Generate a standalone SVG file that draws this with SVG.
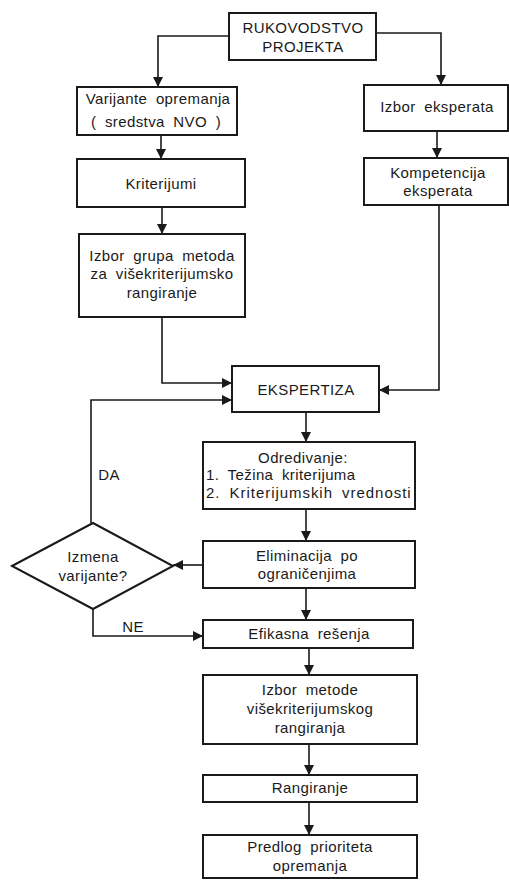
<svg xmlns="http://www.w3.org/2000/svg" width="509" height="880" viewBox="0 0 509 880">
<style>
.box{fill:#fff;stroke:#1a1a1a;stroke-width:2}
.ln{fill:none;stroke:#1a1a1a;stroke-width:1.6;marker-end:url(#ah)}
text{font-family:"Liberation Sans",Arial,sans-serif;font-size:15px;fill:#1a1a1a;text-anchor:middle;letter-spacing:0.4px;word-spacing:4px}
.l{text-anchor:start}
</style>
<defs>
<marker id="ah" markerUnits="userSpaceOnUse" markerWidth="11" markerHeight="10" refX="10" refY="5" orient="auto">
<path d="M0,0 L10,5 L0,10 z" fill="#1a1a1a"/>
</marker>
</defs>
<rect width="509" height="880" fill="#fff"/>
<g id="connectors">
<path class="ln" d="M229,36 H158 V87"/>
<path class="ln" d="M376,33 H441 V85"/>
<path class="ln" d="M161,135 V159"/>
<path class="ln" d="M437,131 V158"/>
<path class="ln" d="M162,207 V234"/>
<path class="ln" d="M162,317 V383 H232"/>
<path class="ln" d="M439,205 V390 H379"/>
<path class="ln" d="M91,523 V400 H232"/>
<path class="ln" d="M306,412 V442"/>
<path class="ln" d="M306,509 V541"/>
<path class="ln" d="M203,565 H173"/>
<path class="ln" d="M306,588 V620"/>
<path class="ln" d="M93,609 V636 H203"/>
<path class="ln" d="M309,648 V675"/>
<path class="ln" d="M309,744 V775"/>
<path class="ln" d="M309,802 V835"/>
<text x="109" y="480">DA</text>
<text x="133" y="632">NE</text>
</g>
<g id="rukovodstvo">
<rect class="box" x="229" y="13" width="147" height="47"/>
<text x="303" y="33">RUKOVODSTVO</text>
<text x="303" y="52">PROJEKTA</text>
</g>
<g id="varijante">
<rect class="box" x="77" y="87" width="160" height="48"/>
<text x="158" y="104">Varijante opremanja</text>
<text x="156" y="127">( sredstva NVO )</text>
</g>
<g id="izbor-eksperata">
<rect class="box" x="364" y="85" width="144" height="46"/>
<text x="437" y="112">Izbor eksperata</text>
</g>
<g id="kriterijumi">
<rect class="box" x="77" y="159" width="168" height="48"/>
<text x="161" y="189">Kriterijumi</text>
</g>
<g id="kompetencija">
<rect class="box" x="364" y="158" width="144" height="47"/>
<text x="438" y="178">Kompetencija</text>
<text x="438" y="196">eksperata</text>
</g>
<g id="izbor-grupa">
<rect class="box" x="79" y="234" width="166" height="83"/>
<text x="162" y="261">Izbor grupa metoda</text>
<text x="162" y="279">za višekriterijumsko</text>
<text x="162" y="298">rangiranje</text>
</g>
<g id="ekspertiza">
<rect class="box" x="232" y="366" width="147" height="46"/>
<text x="306" y="395">EKSPERTIZA</text>
</g>
<g id="odredivanje">
<rect class="box" x="203" y="442" width="212" height="67"/>
<text x="303" y="463">Odredivanje:</text>
<text class="l" x="206" y="480">1. Težina kriterijuma</text>
<text class="l" x="206" y="498" textLength="205" lengthAdjust="spacing">2. Kriterijumskih vrednosti</text>
</g>
<g id="eliminacija">
<rect class="box" x="203" y="541" width="212" height="47"/>
<text x="307" y="561">Eliminacija po</text>
<text x="307" y="579">ograničenjima</text>
</g>
<g id="izmena">
<polygon class="box" points="12,566 93,523 173,566 93,609"/>
<text x="93" y="562">Izmena</text>
<text x="93" y="581">varijante?</text>
</g>
<g id="efikasna">
<rect class="box" x="203" y="620" width="210" height="28"/>
<text x="309" y="639">Efikasna rešenja</text>
</g>
<g id="izbor-metode">
<rect class="box" x="203" y="675" width="214" height="69"/>
<text x="310" y="695">Izbor metode</text>
<text x="310" y="714">višekriterijumskog</text>
<text x="310" y="733">rangiranja</text>
</g>
<g id="rangiranje">
<rect class="box" x="203" y="775" width="214" height="27"/>
<text x="310" y="793">Rangiranje</text>
</g>
<g id="predlog">
<rect class="box" x="203" y="835" width="214" height="43"/>
<text x="310" y="852">Predlog prioriteta</text>
<text x="310" y="871">opremanja</text>
</g>
</svg>
